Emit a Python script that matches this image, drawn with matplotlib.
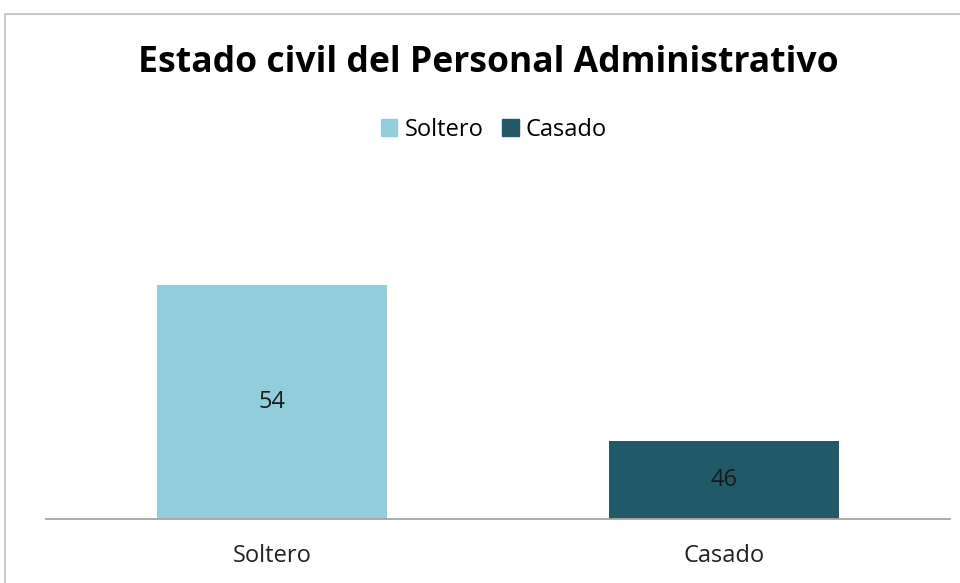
import matplotlib
matplotlib.use("Agg")
import matplotlib.pyplot as plt
from matplotlib.patches import Rectangle
from matplotlib import font_manager

names = {f.name for f in font_manager.fontManager.ttflist}
fam = "Liberation Sans Narrow" if "Liberation Sans Narrow" in names else "Open Sans"
plt.rcParams['font.family'] = [fam, 'DejaVu Sans']

categories = ["Soltero", "Casado"]
values = [54, 46]
colors = ["#92CDDC", "#215968"]
title = "Estado civil del Personal Administrativo"

W, H = 960, 583
fig = plt.figure(figsize=(W/100, H/100), dpi=100)

# chart border
fig.patches.append(Rectangle((5/W, -0.1), 1.2, 1 - 14/H + 0.1, transform=fig.transFigure,
                             fill=False, edgecolor="#BFBFBF", linewidth=1.2))

ax_l, ax_r = 46, 950
ax_b, ax_t = 519, 246
ax = fig.add_axes([ax_l/W, 1 - ax_b/H, (ax_r-ax_l)/W, (ax_b-ax_t)/H])
x = list(range(len(categories)))
bars = ax.bar(x, values, width=0.51, color=colors, zorder=2)
ax.set_xlim(-0.5, 1.5)
ax.set_ylim(42, 56)
for s in ["top", "right", "left"]:
    ax.spines[s].set_visible(False)
ax.spines["bottom"].set_color("#A6A6A6")
ax.spines["bottom"].set_linewidth(1.3)
ax.set_yticks([])
ax.set_xticks(x)
ax.set_xticklabels(categories, fontsize=17, color="#222222")
ax.tick_params(axis="x", length=0, pad=18)
ax.patch.set_visible(False)

for xi, v in zip(x, values):
    ax.text(xi, (42 + v) / 2, str(v), ha="center", va="center", fontsize=17, color="#1a1a1a")

fig.text(488/W, 1 - 63/H, title, ha="center", va="center", fontsize=25.6, fontweight="bold", color="black")

handles = [Rectangle((0, 0), 1, 1, color=c) for c in colors]
fig.legend(handles, categories, loc="center", bbox_to_anchor=(494/W, 1 - 130/H), ncol=2,
           frameon=False, fontsize=17, handlelength=0.7, handleheight=0.7,
           handletextpad=0.3, columnspacing=0.8)

fig.savefig("out.png", dpi=100)
